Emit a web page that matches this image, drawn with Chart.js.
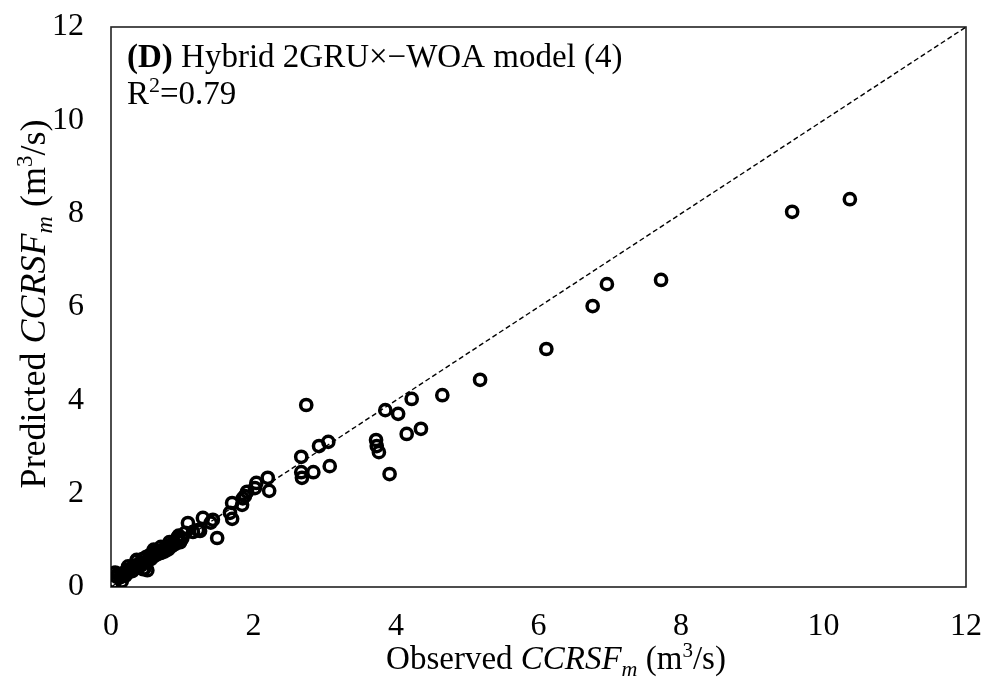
<!DOCTYPE html>
<html><head><meta charset="utf-8">
<script src="https://cdn.jsdelivr.net/npm/chart.js@4.4.0/dist/chart.umd.min.js"></script>
<style>html,body{margin:0;padding:0;background:#fff}</style>
</head><body>
<canvas id="c" width="993" height="680"></canvas>
<script>
// Observed vs predicted CCRSFm (m3/s)
const observed = [
  10.37, 9.56, 7.72, 6.96, 6.76, 6.11, 5.18, 4.65, 4.22, 3.85, 4.03, 4.35, 4.15, 3.72, 3.73, 3.76, 3.91,
  2.74, 3.05, 2.92, 3.07, 2.84, 2.67, 2.67, 2.68,
  2.20, 2.22, 2.04, 2.02, 1.91, 1.84, 1.85, 1.70, 1.67, 1.70, 1.43, 1.29, 1.08, 1.22, 1.04, 0.93, 1.49, 1.40, 1.25, 1.15, 1.88,
  0.05, 0.06, 0.08, 0.10, 0.13, 0.15, 0.18, 0.20, 0.22, 0.25, 0.28, 0.30, 0.33, 0.36, 0.37, 0.40, 0.42, 0.44, 0.46, 0.47,
  0.49, 0.51, 0.51, 0.54, 0.56, 0.58, 0.60, 0.63, 0.65, 0.68, 0.70, 0.73, 0.75, 0.78, 0.80, 0.83, 0.85, 0.88, 0.90, 0.94, 0.97, 1.00,
  0.36, 0.24, 0.60, 0.70, 0.45, 0.15, 0.82, 0.95
];
const predicted = [
  8.31, 8.04, 6.58, 6.49, 6.02, 5.10, 4.44, 4.11, 4.03, 3.79, 3.71, 3.39, 3.28, 3.15, 3.02, 2.89, 2.42,
  3.90, 3.11, 3.02, 2.59, 2.46, 2.79, 2.46, 2.34,
  2.34, 2.06, 2.23, 2.12, 2.04, 1.76, 1.90, 1.80, 1.59, 1.46, 1.44, 1.48, 1.37, 1.22, 1.16, 1.05, 1.05, 1.38, 1.20, 1.18, 1.95,
  0.10, 0.31, 0.22, 0.28, 0.21, 0.26, 0.30, 0.24, 0.36, 0.32, 0.40, 0.34, 0.46, 0.56, 0.42, 0.50, 0.46, 0.60, 0.52, 0.40,
  0.64, 0.55, 0.36, 0.68, 0.60, 0.72, 0.66, 0.76, 0.70, 0.78, 0.73, 0.80, 0.76, 0.86, 0.80, 0.90, 0.87, 0.96, 0.92, 1.00, 0.96, 1.04,
  0.58, 0.44, 0.80, 0.86, 0.38, 0.12, 0.96, 1.10
];
const lineX = [0, 12];
const lineY = [0, 12];
const axisMin = 0, axisMax = 12, axisStep = 2;
const titleBold = "(D)";
const titleRest = " Hybrid 2GRU×−WOA model (4)";
const r2Text = "0.79";

const SERIF = "'Liberation Serif', 'Times New Roman', serif";

function drawRich(ctx, parts, x, y, center) {
  let w = 0;
  parts.forEach(p => { ctx.font = p.font; p.w = ctx.measureText(p.t).width; w += p.w; });
  let cx = center ? x - w / 2 : x;
  ctx.textBaseline = 'alphabetic';
  ctx.textAlign = 'left';
  parts.forEach(p => { ctx.font = p.font; ctx.fillText(p.t, cx, y + (p.dy || 0)); cx += p.w; });
}

const decor = {
  id: 'decor',
  beforeDatasetsDraw(chart) {
    const {ctx, chartArea: a} = chart;
    ctx.save();
    ctx.strokeStyle = '#222';
    ctx.lineWidth = 1.6;
    ctx.strokeRect(a.left, a.top, a.right - a.left, a.bottom - a.top);
    ctx.restore();
  },
  afterDraw(chart) {
    const {ctx} = chart;
    ctx.save();
    ctx.fillStyle = '#000';
    // panel title
    drawRich(ctx, [
      {t: titleBold, font: `bold 33px ${SERIF}`},
      {t: titleRest, font: `33px ${SERIF}`}
    ], 127, 67, false);
    drawRich(ctx, [
      {t: 'R', font: `33px ${SERIF}`},
      {t: '2', font: `22px ${SERIF}`, dy: -12},
      {t: '=' + r2Text, font: `33px ${SERIF}`}
    ], 127, 104, false);
    // x axis title
    drawRich(ctx, [
      {t: 'Observed ', font: `33px ${SERIF}`},
      {t: 'CCRSF', font: `italic 33px ${SERIF}`},
      {t: 'm', font: `italic 22px ${SERIF}`, dy: 7},
      {t: ' (m', font: `33px ${SERIF}`},
      {t: '3', font: `21px ${SERIF}`, dy: -12},
      {t: '/s)', font: `33px ${SERIF}`}
    ], 556, 669, true);
    // y axis title
    ctx.translate(45, 304);
    ctx.rotate(-Math.PI / 2);
    drawRich(ctx, [
      {t: 'Predicted ', font: `36px ${SERIF}`},
      {t: 'CCRSF', font: `italic 36px ${SERIF}`},
      {t: 'm', font: `italic 24px ${SERIF}`, dy: 7},
      {t: ' (m', font: `36px ${SERIF}`},
      {t: '3', font: `23px ${SERIF}`, dy: -13},
      {t: '/s)', font: `36px ${SERIF}`}
    ], 0, 0, true);
    ctx.restore();
  }
};

const tickFont = {family: SERIF, size: 32};

new Chart(document.getElementById('c'), {
  type: 'scatter',
  data: {
    datasets: [
      {
        data: observed.map((x, i) => ({x, y: predicted[i]})),
        pointStyle: 'circle',
        pointRadius: 5.6,
        pointBorderWidth: 3.5,
        pointBorderColor: '#000',
        pointBackgroundColor: 'rgba(0,0,0,0)',
        showLine: false
      },
      {
        data: lineX.map((x, i) => ({x, y: lineY[i]})),
        showLine: true,
        pointRadius: 0,
        borderColor: '#000',
        borderWidth: 1.4,
        borderDash: [5, 3],
        fill: false
      }
    ]
  },
  options: {
    responsive: false,
    animation: false,
    devicePixelRatio: 1,
    layout: {padding: {top: 27, right: 27, left: 0, bottom: 0}},
    plugins: {legend: {display: false}, tooltip: {enabled: false}},
    scales: {
      x: {
        type: 'linear', min: axisMin, max: axisMax,
        grid: {display: false, drawTicks: false},
        border: {display: false},
        ticks: {stepSize: axisStep, font: tickFont, color: '#000', padding: 20, maxRotation: 0},
        afterFit(s) { s.height = 93; s.paddingLeft = 0; s.paddingRight = 0; }
      },
      y: {
        type: 'linear', min: axisMin, max: axisMax,
        grid: {display: false, drawTicks: false},
        border: {display: false},
        ticks: {stepSize: axisStep, font: tickFont, color: '#000', padding: 27},
        afterFit(s) { s.width = 111; s.paddingTop = 0; s.paddingBottom = 0; }
      }
    }
  },
  plugins: [decor]
});
</script>
</body></html>
